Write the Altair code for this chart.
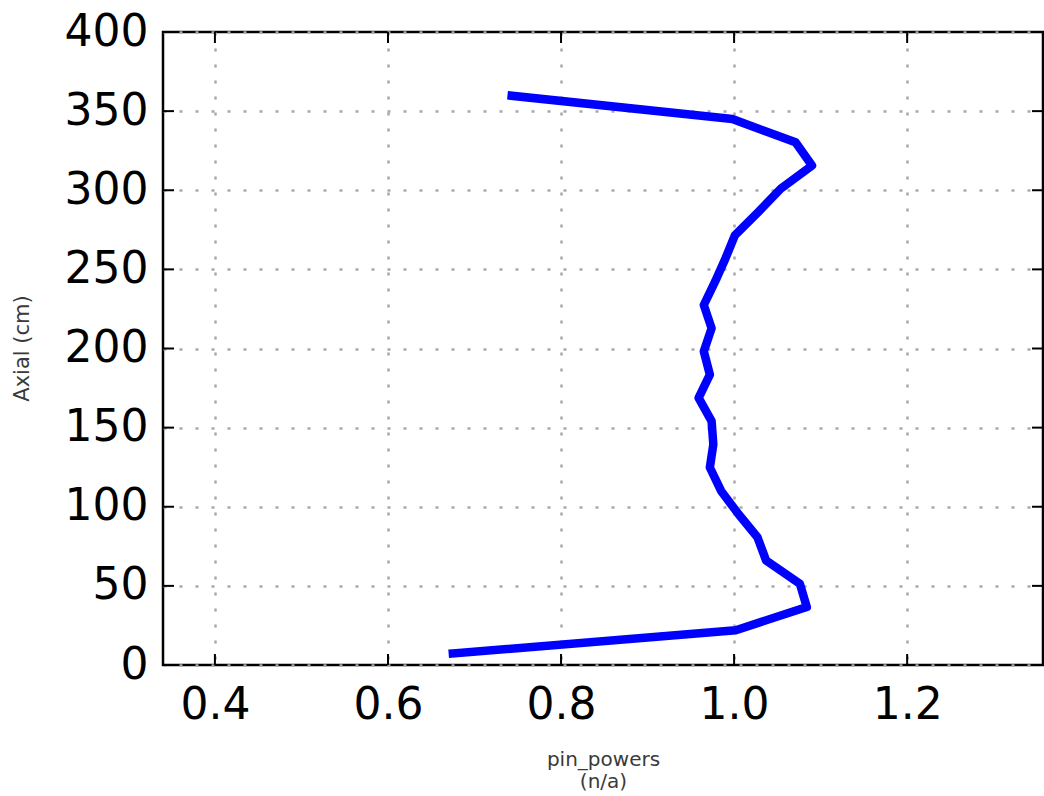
import altair as alt
import pandas as pd

# Data
axial_cm = [7.3, 22.0, 36.7, 51.4, 66.0, 80.7, 95.4, 110.0, 124.8, 139.4, 154.1, 168.8,
            183.5, 198.2, 212.8, 227.5, 242.2, 256.9, 271.6, 286.3, 301.0, 315.6, 330.3,
            345.0, 359.7]
pin_powers = [0.675, 1.002, 1.084, 1.076, 1.037, 1.027, 1.005, 0.985, 0.972, 0.976, 0.974,
              0.959, 0.972, 0.965, 0.974, 0.965, 0.978, 0.990, 1.001, 1.028, 1.054, 1.090,
              1.071, 0.998, 0.743]
x_ticks = [0.4, 0.6, 0.8, 1.0, 1.2]
y_ticks = [0, 50, 100, 150, 200, 250, 300, 350, 400]

W, H = 880, 633
TICK = 11

df = pd.DataFrame({"pin_powers": pin_powers, "axial": axial_cm})
xt = pd.DataFrame({"pin_powers": x_ticks})
yt = pd.DataFrame({"axial": y_ticks})

xs = alt.Scale(domain=[0.34, 1.357], nice=False, zero=False)
ys = alt.Scale(domain=[0, 400], nice=False, zero=False)

x_axis = alt.Axis(values=x_ticks, format=".1f", title=["pin_powers", "(n/a)"],
                  grid=True, gridColor="#a8a8a8", gridDash=[3, 13], gridWidth=2.5,
                  domain=False, ticks=False,
                  labelFont="DejaVu Sans", labelFontSize=44, labelColor="black",
                  labelPadding=18, titleFont="DejaVu Sans", titleFontSize=20,
                  titleFontWeight="normal", titleColor="#3a3a3a",
                  titleX=440, titleY=84, titleAlign="center", titleBaseline="top",
                  titleLineHeight=22)
y_axis = alt.Axis(values=y_ticks, title="Axial (cm)",
                  grid=True, gridColor="#a8a8a8", gridDash=[3, 13], gridWidth=2.5,
                  domain=False, ticks=False,
                  labelFont="DejaVu Sans", labelFontSize=44, labelColor="black",
                  labelPadding=15, titleFont="DejaVu Sans", titleFontSize=21,
                  titleFontWeight="normal", titleColor="#3a3a3a",
                  titleX=-141, titleY=316, titleAngle=270, titleAlign="center",
                  titleBaseline="middle")

line = alt.Chart(df).mark_line(color="#0000ff", strokeWidth=8.5, strokeJoin="round",
                               strokeCap="square").encode(
    x=alt.X("pin_powers:Q", scale=xs, axis=x_axis),
    y=alt.Y("axial:Q", scale=ys, axis=y_axis),
    order="axial:Q",
)

bottom_ticks = alt.Chart(xt).mark_rule(color="black", strokeWidth=2).encode(
    x=alt.X("pin_powers:Q", scale=xs, axis=x_axis), y=alt.value(H - TICK), y2=alt.value(H))
top_ticks = alt.Chart(xt).mark_rule(color="black", strokeWidth=2).encode(
    x=alt.X("pin_powers:Q", scale=xs, axis=x_axis), y=alt.value(0), y2=alt.value(TICK))
left_ticks = alt.Chart(yt).mark_rule(color="black", strokeWidth=2).encode(
    y=alt.Y("axial:Q", scale=ys, axis=y_axis), x=alt.value(0), x2=alt.value(TICK))
right_ticks = alt.Chart(yt).mark_rule(color="black", strokeWidth=2).encode(
    y=alt.Y("axial:Q", scale=ys, axis=y_axis), x=alt.value(W - TICK), x2=alt.value(W))

chart = alt.layer(line, bottom_ticks, top_ticks, left_ticks, right_ticks).properties(
    width=W, height=H,
    padding={"left": 163, "top": 32, "right": 1, "bottom": 131},
    autosize=alt.AutoSizeParams(type="none"),
    background="white",
).configure_view(stroke="black", strokeWidth=2.5)

chart.save("out.html", embed_options={"renderer": "svg", "actions": False})
